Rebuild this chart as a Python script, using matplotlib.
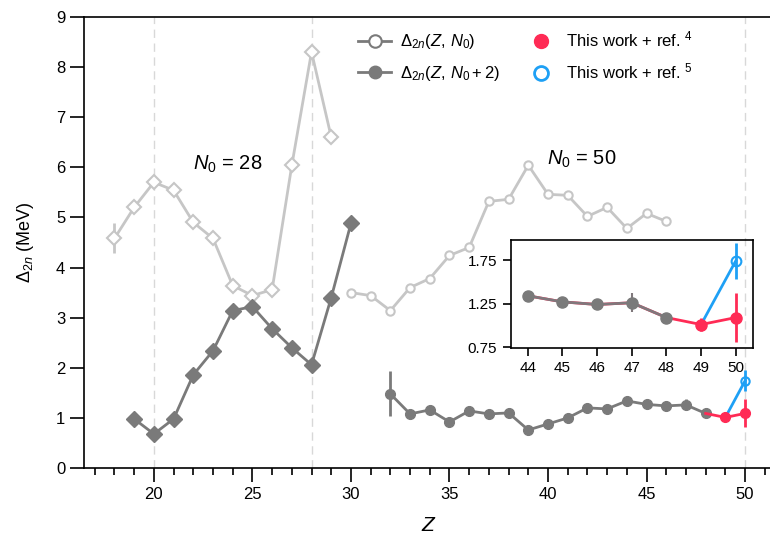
import matplotlib
matplotlib.use("Agg")
import matplotlib.pyplot as plt
from matplotlib.lines import Line2D

plt.rcParams['font.family'] = ['Liberation Sans', 'DejaVu Sans']
plt.rcParams['mathtext.fontset'] = 'custom'
plt.rcParams['mathtext.rm'] = 'Liberation Sans'
plt.rcParams['mathtext.it'] = 'Liberation Sans:italic'
plt.rcParams['mathtext.bf'] = 'Liberation Sans:bold'

# N0 = 28 region
z28 = [18, 19, 20, 21, 22, 23, 24, 25, 26, 27, 28, 29]
d28 = [4.58, 5.2, 5.7, 5.54, 4.9, 4.58, 3.64, 3.44, 3.56, 6.04, 8.3, 6.6]
d28_err = [0.3, 0, 0, 0, 0, 0, 0, 0, 0, 0, 0, 0]
z30 = [19, 20, 21, 22, 23, 24, 25, 26, 27, 28, 29, 30]
d30 = [0.98, 0.68, 0.98, 1.86, 2.34, 3.14, 3.22, 2.78, 2.4, 2.06, 3.4, 4.88]

# N0 = 50 region
z50 = [30, 31, 32, 33, 34, 35, 36, 37, 38, 39, 40, 41, 42, 43, 44, 45, 46]
d50 = [3.5, 3.44, 3.14, 3.6, 3.78, 4.24, 4.4, 5.32, 5.36, 6.04, 5.46, 5.44,
       5.02, 5.2, 4.78, 5.08, 4.92]
z52 = [32, 33, 34, 35, 36, 37, 38, 39, 40, 41, 42, 43, 44, 45, 46, 47, 48]
d52 = [1.48, 1.08, 1.16, 0.92, 1.14, 1.08, 1.10, 0.76, 0.88, 1.0, 1.2, 1.18,
       1.34, 1.27, 1.24, 1.26, 1.09]
d52_err = [0.45, 0, 0, 0, 0, 0, 0, 0, 0, 0, 0, 0, 0, 0, 0, 0.11, 0]

# this work
z_red = [48, 49, 50]
d_red = [1.09, 1.01, 1.09]
e_red = [0, 0.07, 0.28]
z_blue = [49, 50]
d_blue = [1.01, 1.74]
e_blue = [0, 0.21]

light = '#c6c6c6'
dark = '#7a7a7a'
red = '#ff2b55'
blue = '#1ea0f5'

fig = plt.figure(figsize=(7.7, 5.43), dpi=100)
ax = fig.add_axes([0.109, 0.138, 0.897, 0.831])

for zz in [20, 28, 50]:
    ax.axvline(zz, color='#d8d8d8', lw=1, ls=(0, (6, 4)), zorder=0)

ax.errorbar(z28, d28, yerr=d28_err, color=light, lw=2, marker='D', ms=7,
            mfc='white', mec=light, mew=1.5, elinewidth=2, capsize=0, zorder=2)
ax.errorbar(z30, d30, color=dark, lw=2, marker='D', ms=8, mfc=dark,
            mec=dark, zorder=3)
ax.errorbar(z50, d50, color=light, lw=2, marker='o', ms=6, mfc='white',
            mec=light, mew=1.5, zorder=2)
ax.errorbar(z52, d52, yerr=d52_err, color=dark, lw=2, marker='o', ms=7,
            mfc=dark, mec=dark, elinewidth=2, capsize=0, zorder=3)
ax.plot(z_blue, d_blue, color=blue, lw=2, zorder=4)
ax.errorbar(z_blue[1:], d_blue[1:], yerr=e_blue[1:], color=blue, lw=0,
            marker='o', ms=6, mfc='none', mec=blue, mew=1.5, elinewidth=2,
            capsize=0, zorder=5)
ax.plot(z_red, d_red, color=red, lw=2, zorder=4)
ax.errorbar(z_red[1:], d_red[1:], yerr=e_red[1:], color=red, lw=0,
            marker='o', ms=7, mfc=red, mec=red, elinewidth=2, capsize=0,
            zorder=5)

ax.text(23.75, 6.05, r'$N_0$ = 28', fontsize=14.5, ha='center', va='center')
ax.text(41.7, 6.15, r'$N_0$ = 50', fontsize=14.5, ha='center', va='center')

ax.set_xlim(16.45, 51.5)
ax.set_ylim(0, 9)
ax.set_xticks([20, 25, 30, 35, 40, 45, 50])
ax.set_xticks(range(17, 52), minor=True)
ax.set_yticks(range(0, 10))
ax.tick_params(axis='both', labelsize=12, length=10, width=1.2, direction='out')
ax.tick_params(axis='x', which='minor', length=5, width=1.2)
ax.tick_params(top=False, right=False)
for s in ax.spines.values():
    s.set_linewidth(1.2)
ax.set_xlabel(r'$Z$', fontsize=15, labelpad=10)
ax.set_ylabel(r'$\mathit{\Delta}_{2n}$ (MeV)', fontsize=13, labelpad=14)

handles = [
    Line2D([], [], color=dark, lw=2, marker='o', ms=9, mfc='white', mec=dark, mew=1.5),
    Line2D([], [], color=dark, lw=2, marker='o', ms=9, mfc=dark, mec=dark),
    Line2D([], [], lw=0, marker='o', ms=10, mfc=red, mec=red),
    Line2D([], [], lw=0, marker='o', ms=10, mfc='none', mec=blue, mew=2),
]
labels = [r'$\mathit{\Delta}_{2n}(Z,\,N_0)$',
          r'$\mathit{\Delta}_{2n}(Z,\,N_0+2)$',
          r'This work + ref. $^4$',
          r'This work + ref. $^5$']
ax.legend(handles, labels, ncol=2, frameon=False, fontsize=12,
          loc='upper left', bbox_to_anchor=(0.375, 1.005), columnspacing=1.5,
          handlelength=2.0, handletextpad=0.5, labelspacing=0.75)

# inset
ins = fig.add_axes([0.663, 0.359, 0.315, 0.199])
ins.set_facecolor('none')
ins.plot(z52[-5:] + z_red[1:], d52[-5:] + d_red[1:], color=red, lw=2, zorder=1)
ins.errorbar(z52[-5:], d52[-5:], yerr=d52_err[-5:], color='#80787c', lw=2,
             marker='o', ms=8, mfc=dark, mec=dark, elinewidth=1.5, capsize=0,
             zorder=2)
ins.plot(z_blue, d_blue, color=blue, lw=2, zorder=3)
ins.errorbar(z_blue[1:], d_blue[1:], yerr=e_blue[1:], color=blue, lw=0,
             marker='o', ms=7, mfc='none', mec=blue, mew=1.5, elinewidth=2,
             capsize=0, zorder=4)
ins.errorbar(z_red[1:], d_red[1:], yerr=e_red[1:], color=red, lw=0,
             marker='o', ms=8, mfc=red, mec=red, elinewidth=2, capsize=0,
             zorder=5)
ins.set_xlim(43.5, 50.5)
ins.set_ylim(0.74, 1.98)
ins.set_xticks(range(44, 51))
ins.set_yticks([0.75, 1.25, 1.75])
ins.set_yticklabels(['0.75', '1.25', '1.75'])
ins.tick_params(labelsize=11, length=6, width=1.2, direction='out')
for s in ins.spines.values():
    s.set_linewidth(1.2)

fig.savefig('out.png', dpi=100)
